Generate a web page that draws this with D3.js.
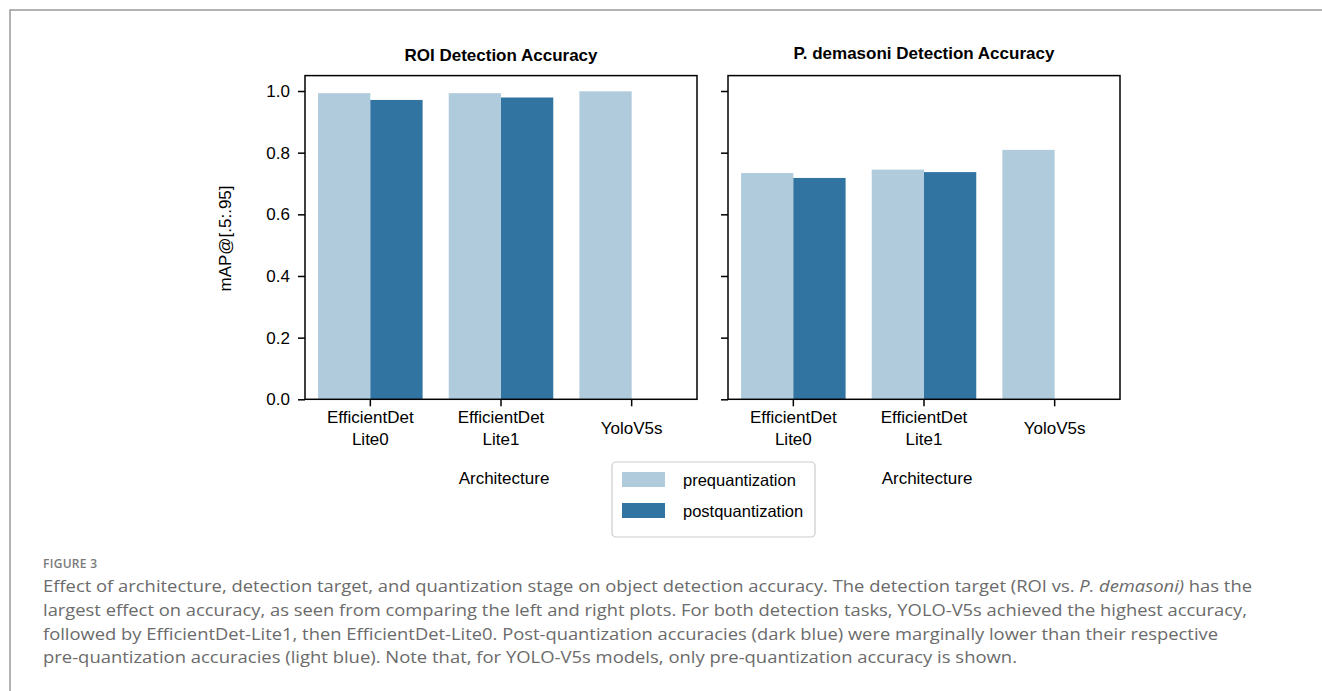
<!DOCTYPE html>
<html>
<head>
<meta charset="utf-8">
<script src="https://cdn.jsdelivr.net/npm/d3@7"></script>
<style>
  html, body { margin: 0; padding: 0; background: #fff; }
  svg { display: block; }
</style>
</head>
<body>
<svg id="chart" width="1322" height="691"></svg>
<script>
// ---------- data ----------
const categories = ["EfficientDet\nLite0", "EfficientDet\nLite1", "YoloV5s"];
const seriesNames = ["prequantization", "postquantization"];
const roiPre  = [0.993, 0.993, 0.999];
const roiPost = [0.971, 0.979, null];
const pdPre   = [0.734, 0.745, 0.809];
const pdPost  = [0.718, 0.737, null];
const yTicks  = [0.0, 0.2, 0.4, 0.6, 0.8, 1.0];
const panelTitles = ["ROI Detection Accuracy", "P. demasoni Detection Accuracy"];
const xLabel = "Architecture";
const yLabel = "mAP@[.5:.95]";
const colors = ["#afcbdc", "#3274a1"];
const captionHead = "FIGURE 3";
const captionLines = [
  [["Effect of architecture, detection target, and quantization stage on object detection accuracy. The detection target (ROI vs. ", false], ["P. demasoni)", true], [" has the", false]],
  [["largest effect on accuracy, as seen from comparing the left and right plots. For both detection tasks, YOLO-V5s achieved the highest accuracy,", false]],
  [["followed by EfficientDet-Lite1, then EfficientDet-Lite0. Post-quantization accuracies (dark blue) were marginally lower than their respective", false]],
  [["pre-quantization accuracies (light blue). Note that, for YOLO-V5s models, only pre-quantization accuracy is shown.", false]]
];

// ---------- layout ----------
const svg = d3.select("#chart");
const FONT = "'Liberation Sans', Arial, Helvetica, sans-serif";
const plotTop = 75.6, plotBottom = 399.3;
const y = d3.scaleLinear().domain([0, 1.05]).range([plotBottom, plotTop]);

// card border
svg.append("path")
  .attr("d", "M10,691 L10,10 L1322,10")
  .attr("fill", "none").attr("stroke", "#9a9a9a").attr("stroke-width", 1.5);

const panels = [
  { x0: 305, x1: 697, pre: roiPre, post: roiPost, title: panelTitles[0], titleY: 60.7, labels: true },
  { x0: 728, x1: 1120, pre: pdPre, post: pdPost, title: panelTitles[1], titleY: 58.5, labels: false }
];

panels.forEach(p => {
  const x = d3.scaleBand().domain(categories).range([p.x0, p.x1]).padding(0);
  const xs = d3.scaleBand().domain(seriesNames)
    .range([x.bandwidth() * 0.1, x.bandwidth() * 0.9]).padding(0);
  const g = svg.append("g");

  // bars
  categories.forEach((c, i) => {
    [p.pre[i], p.post[i]].forEach((v, s) => {
      if (v == null) return;
      g.append("rect")
        .attr("x", x(c) + xs(seriesNames[s]))
        .attr("width", xs.bandwidth())
        .attr("y", y(v))
        .attr("height", y(0) - y(v))
        .attr("fill", colors[s]);
    });
  });

  // frame
  g.append("rect")
    .attr("x", p.x0).attr("y", plotTop)
    .attr("width", p.x1 - p.x0).attr("height", plotBottom - plotTop)
    .attr("fill", "none").attr("stroke", "#000").attr("stroke-width", 1.5);

  // y axis
  const ya = g.append("g").attr("transform", `translate(${p.x0},0)`)
    .call(d3.axisLeft(y).tickValues(yTicks).tickSize(7).tickPadding(8)
      .tickFormat(p.labels ? d3.format(".1f") : () => ""));
  ya.select(".domain").remove();
  ya.selectAll(".tick line").attr("stroke", "#000").attr("stroke-width", 1.5);
  ya.selectAll(".tick text").attr("font-family", FONT).attr("font-size", 17).attr("fill", "#000");

  // x axis
  const xa = g.append("g").attr("transform", `translate(0,${plotBottom})`)
    .call(d3.axisBottom(x).tickSize(7).tickFormat(""));
  xa.select(".domain").remove();
  xa.selectAll(".tick line").attr("stroke", "#000").attr("stroke-width", 1.5);
  xa.selectAll(".tick").each(function(d) {
    const parts = d.split("\n");
    const t = d3.select(this).append("text")
      .attr("font-family", FONT).attr("font-size", 17).attr("fill", "#000")
      .attr("text-anchor", "middle");
    if (parts.length === 1) {
      t.append("tspan").attr("x", 0).attr("y", 35).text(parts[0]);
    } else {
      parts.forEach((s, k) => t.append("tspan").attr("x", 0).attr("y", 24 + k * 21.7).text(s));
    }
  });

  // x label
  g.append("text")
    .attr("x", (p.x0 + p.x1) / 2 + 3).attr("y", 484.3)
    .attr("text-anchor", "middle").attr("font-family", FONT).attr("font-size", 17)
    .text(xLabel);

  // title
  g.append("text")
    .attr("x", (p.x0 + p.x1) / 2).attr("y", p.titleY)
    .attr("text-anchor", "middle").attr("font-family", FONT).attr("font-size", 17)
    .attr("font-weight", "bold")
    .text(p.title);
});

// y label
svg.append("text")
  .attr("transform", "translate(231,238.5) rotate(-90)")
  .attr("text-anchor", "middle").attr("font-family", FONT).attr("font-size", 17)
  .text(yLabel);

// legend
const lg = svg.append("g");
lg.append("rect").attr("x", 612).attr("y", 462).attr("width", 203).attr("height", 75)
  .attr("rx", 4).attr("fill", "#fff").attr("stroke", "#cccccc").attr("stroke-width", 1.2);
seriesNames.forEach((s, i) => {
  lg.append("rect").attr("x", 622).attr("y", 472 + i * 31).attr("width", 43).attr("height", 15)
    .attr("fill", colors[i]);
  lg.append("text").attr("x", 683).attr("y", 486 + i * 31)
    .attr("font-family", FONT).attr("font-size", 16.5).attr("fill", "#000").text(s);
});

// caption
const CAP = "'Open Sans', 'Noto Sans', sans-serif";
svg.append("text").attr("x", 43).attr("y", 568.3)
  .attr("font-family", CAP).attr("font-size", 12).attr("font-weight", 600)
  .attr("fill", "#7a7a7a").attr("letter-spacing", 0.3).text(captionHead);
const lineEnds = [1252, 1247, 1218, 1017];
const lineY = [591.5, 615.5, 639.5, 663];
captionLines.forEach((segs, i) => {
  const t = svg.append("text").attr("x", 43).attr("y", lineY[i])
    .attr("font-family", CAP).attr("font-size", 15.5).attr("fill", "#6b6b6b")
    .attr("textLength", lineEnds[i] - 43).attr("lengthAdjust", "spacingAndGlyphs");
  segs.forEach(([s, it]) => {
    const ts = t.append("tspan").text(s);
    if (it) ts.attr("font-style", "italic");
  });
});
</script>
</body>
</html>
